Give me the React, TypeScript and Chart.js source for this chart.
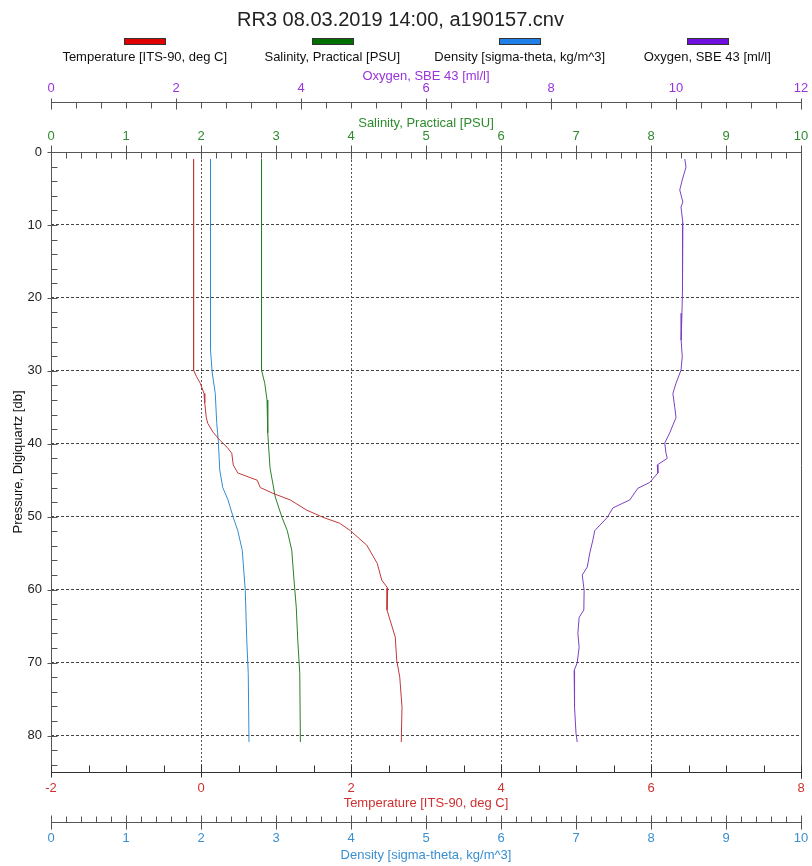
import React, { useEffect, useRef } from 'react';
import { Chart, registerables } from 'chart.js';

Chart.register(...registerables);

const FONT = "'Liberation Sans', Arial, sans-serif";

const titleText = 'RR3 08.03.2019 14:00, a190157.cnv';
const seriesLabels = [
  'Temperature [ITS-90, deg C]',
  'Salinity, Practical [PSU]',
  'Density [sigma-theta, kg/m^3]',
  'Oxygen, SBE 43 [ml/l]',
];
const lineColors = ['rgb(192,56,56)', 'rgb(40,128,40)', 'rgb(52,140,205)', 'rgb(124,64,196)'];
const legendColors = ['#e00000', '#007000', '#1e80e8', '#7010e0'];
const axisColors = ['#d03030', '#2e8b2e', '#3a8fd0', '#9933dd'];

// Temperature profile
const tempPressure = [1.0, 10, 20, 27.2, 29.9, 30.8, 31.7, 33.1, 34.4, 36.4, 37.2, 38.4, 39.5, 40.5, 41.3, 42.9, 44.0, 45.0, 46.0, 46.8, 47.7, 49.1, 50.1, 50.9, 51.9, 53.9, 56.4, 58.7, 59.8, 62.8, 66.5, 69.7, 72.0, 76.1, 80.9];
const tempValues = [-0.1, -0.1, -0.1, -0.1, -0.095, -0.06, -0.01, 0.04, 0.05, 0.07, 0.09, 0.16, 0.25, 0.35, 0.41, 0.43, 0.49, 0.75, 0.79, 0.96, 1.19, 1.41, 1.63, 1.85, 1.99, 2.21, 2.35, 2.41, 2.49, 2.48, 2.59, 2.61, 2.65, 2.68, 2.67];

// Salinity profile
const salPressure = [1.0, 16.6, 29.9, 31.7, 34.0, 38.5, 43.3, 47.3, 50.1, 51.9, 54.6, 58.7, 62.4, 66.9, 71.5, 80.9];
const salValues = [2.807, 2.807, 2.807, 2.85, 2.88, 2.89, 2.92, 2.99, 3.08, 3.15, 3.21, 3.24, 3.27, 3.29, 3.317, 3.325];

// Density profile
const densPressure = [1.0, 27.2, 30.3, 33.1, 37.2, 39.5, 43.6, 46.0, 47.7, 50.1, 51.9, 54.6, 60.1, 66.9, 71.5, 80.9];
const densValues = [2.127, 2.127, 2.15, 2.19, 2.21, 2.23, 2.25, 2.29, 2.36, 2.43, 2.49, 2.55, 2.59, 2.61, 2.63, 2.64];

// Oxygen profile
const oxyPressure = [0.96, 2.06, 3.84, 5.21, 6.86, 7.54, 9.74, 12.07, 14.4, 16.5, 18.9, 22.1, 24.0, 25.8, 28.1, 29.9, 31.7, 33.1, 35.0, 36.4, 38.5, 39.9, 41.3, 42.0, 42.9, 44.0, 45.3, 46.1, 47.7, 48.8, 50.1, 51.9, 53.2, 55.0, 56.9, 58.0, 60.1, 62.8, 63.8, 66.0, 67.9, 70.0, 71.1, 72.4, 73.4, 76.1, 79.7, 80.9];
const oxyValues = [10.14, 10.16, 10.10, 10.06, 10.11, 10.08, 10.11, 10.105, 10.10, 10.11, 10.10, 10.095, 10.08, 10.085, 10.10, 10.08, 10.0, 9.95, 9.98, 10.0, 9.90, 9.82, 9.84, 9.86, 9.70, 9.71, 9.58, 9.39, 9.26, 8.99, 8.90, 8.70, 8.67, 8.62, 8.58, 8.50, 8.53, 8.525, 8.45, 8.43, 8.45, 8.42, 8.37, 8.38, 8.37, 8.38, 8.40, 8.42];

const toPoints = (p: number[], v: number[]) => p.map((y, i) => ({ x: v[i], y }));

function hAxis(ctx: CanvasRenderingContext2D, scale: any, yLine: number, min: number, max: number, minor: number, major: number, minorUp: number, minorDown: number, majorUp: number, majorDown: number) {
  const y = Math.round(yLine) + 0.5;
  ctx.beginPath();
  ctx.moveTo(scale.getPixelForValue(min), y);
  ctx.lineTo(scale.getPixelForValue(max) + 1, y);
  const n = Math.round((max - min) / minor);
  for (let i = 0; i <= n; i++) {
    const v = min + i * minor;
    const r = (v - min) / major;
    const isMajor = Math.abs(r - Math.round(r)) < 1e-6;
    const x = Math.round(scale.getPixelForValue(v)) + 0.5;
    const up = isMajor ? majorUp : minorUp;
    const down = isMajor ? majorDown : minorDown;
    ctx.moveTo(x, y - up);
    ctx.lineTo(x, y + down);
  }
  ctx.stroke();
}

const decorPlugin = {
  id: 'decor',
  afterDraw(chart: any) {
    const ctx: CanvasRenderingContext2D = chart.ctx;
    const { left, right, top, bottom } = chart.chartArea;
    const s = chart.scales;
    ctx.save();
    ctx.lineWidth = 1;
    ctx.strokeStyle = '#555';
    const lx = Math.round(left) + 0.5;
    const rx = Math.round(right) + 0.5;
    ctx.beginPath();
    ctx.moveTo(lx, top);
    ctx.lineTo(lx, bottom + 4);
    ctx.moveTo(rx, top);
    ctx.lineTo(rx, bottom + 7);
    ctx.stroke();
    const y = s.y;
    ctx.beginPath();
    for (let v = 0; v <= 84; v += 2) {
      const py = Math.round(y.getPixelForValue(v)) + 0.5;
      if (v % 10 === 0) {
        ctx.moveTo(lx - 4, py);
        ctx.lineTo(lx + 6, py);
      } else {
        ctx.moveTo(lx, py);
        ctx.lineTo(lx + 6, py);
      }
    }
    ctx.stroke();
    hAxis(ctx, s.oxy, s.oxy.bottom, 0, 12, 0.4, 2, 0, 6, 4, 7);
    hAxis(ctx, s.sal, top, 0, 10, 0.2, 1, 0, 6, 7, 7);
    ctx.strokeStyle = '#333';
    hAxis(ctx, s.temp, bottom, -2, 8, 0.5, 2, 7, 0, 7, 5);
    ctx.strokeStyle = '#555';
    hAxis(ctx, s.dens, s.dens.top + 10, 0, 10, 0.2, 1, 6, 0, 7, 7);

    const w = (right - left) / 4;
    ctx.font = `13px ${FONT}`;
    ctx.textAlign = 'center';
    ctx.textBaseline = 'middle';
    for (let i = 0; i < 4; i++) {
      const cx = left + (i + 0.5) * w;
      ctx.fillStyle = legendColors[i];
      ctx.fillRect(Math.round(cx - 20.5), 38, 41, 6);
      ctx.strokeStyle = '#333';
      ctx.strokeRect(Math.round(cx - 20.5) + 0.5, 38.5, 41, 6);
      ctx.fillStyle = '#111';
      ctx.fillText(seriesLabels[i], cx, 57);
    }
    ctx.restore();
  },
};

const fitter = (h: number) => (sc: any) => {
  sc.height = h;
  sc.paddingLeft = 0;
  sc.paddingRight = 0;
  sc.paddingTop = 0;
  sc.paddingBottom = 0;
};

export default function App() {
  const ref = useRef<HTMLCanvasElement>(null);
  useEffect(() => {
    document.body.style.margin = '0';
    if (!ref.current) return;
    Chart.defaults.font.family = FONT;
    const ds = (i: number, data: any[], xAxisID: string) => ({
      label: seriesLabels[i],
      data,
      xAxisID,
      yAxisID: 'y',
      showLine: true,
      borderColor: lineColors[i],
      backgroundColor: lineColors[i],
      borderWidth: 1,
      pointRadius: 0,
      tension: 0,
      fill: false,
    });
    const tickFont = { size: 13, lineHeight: 1 };
    const chart = new Chart(ref.current, {
      type: 'scatter',
      data: {
        datasets: [
          ds(0, toPoints(tempPressure, tempValues), 'temp'),
          ds(1, toPoints(salPressure, salValues), 'sal'),
          ds(2, toPoints(densPressure, densValues), 'dens'),
          ds(3, toPoints(oxyPressure, oxyValues), 'oxy'),
        ],
      },
      options: {
        animation: false,
        responsive: false,
        layout: { padding: { left: 0, right: 11, top: 0, bottom: 0 } },
        plugins: {
          legend: { display: false },
          tooltip: { enabled: false },
          title: {
            display: true,
            text: titleText,
            color: '#222',
            font: { size: 20, weight: 'normal', lineHeight: 1.2 },
            padding: { top: 8, bottom: 32 },
          },
        },
        scales: {
          y: {
            type: 'linear',
            position: 'left',
            reverse: true,
            min: 0,
            max: 85,
            ticks: { stepSize: 10, includeBounds: false, padding: 9, color: '#222', font: tickFont },
            grid: {
              drawTicks: false,
              lineWidth: 1,
              color: (c: any) => (c.tick && c.tick.value === 0 ? 'rgba(0,0,0,0)' : '#444'),
            },
            border: { display: false, dash: [3, 2] },
            title: { display: true, text: 'Pressure, Digiquartz [db]', color: '#111', font: tickFont, padding: { top: 11.5, bottom: 0 } },
            afterFit: (sc: any) => {
              sc.width = 51;
              sc.paddingTop = 0;
              sc.paddingBottom = 0;
            },
          },
          oxy: {
            type: 'linear',
            position: 'top',
            weight: 1,
            min: 0,
            max: 12,
            ticks: { stepSize: 2, includeBounds: false, padding: 7.5, color: axisColors[3], font: tickFont, maxRotation: 0, autoSkip: false },
            grid: { display: false, drawTicks: false },
            border: { display: false },
            title: { display: true, text: seriesLabels[3], color: axisColors[3], font: tickFont, padding: { top: 5.5, bottom: 0 } },
            afterFit: fitter(38),
          },
          sal: {
            type: 'linear',
            position: 'top',
            weight: 0,
            min: 0,
            max: 10,
            ticks: { stepSize: 1, includeBounds: false, padding: 9.5, color: axisColors[1], font: tickFont, maxRotation: 0, autoSkip: false },
            grid: { display: false, drawTicks: false },
            border: { display: false },
            title: { display: true, text: seriesLabels[1], color: axisColors[1], font: tickFont, padding: { top: 14.5, bottom: 0 } },
            afterFit: fitter(50),
          },
          temp: {
            type: 'linear',
            position: 'bottom',
            weight: 0,
            min: -2,
            max: 8,
            ticks: { stepSize: 2, includeBounds: false, padding: 10, color: axisColors[0], font: tickFont, maxRotation: 0, autoSkip: false },
            grid: {
              drawTicks: false,
              lineWidth: 1,
              color: (c: any) => (c.tick && (c.tick.value === -2 || c.tick.value === 8) ? 'rgba(0,0,0,0)' : '#555'),
            },
            border: { display: false, dash: [2, 2] },
            title: { display: true, text: seriesLabels[0], color: axisColors[0], font: tickFont, padding: { top: 0, bottom: 2.5 } },
            afterFit: fitter(40),
          },
          dens: {
            type: 'linear',
            position: 'bottom',
            weight: 1,
            min: 0,
            max: 10,
            ticks: { stepSize: 1, includeBounds: false, padding: 19.5, color: axisColors[2], font: tickFont, maxRotation: 0, autoSkip: false },
            grid: { display: false, drawTicks: false },
            border: { display: false },
            title: { display: true, text: seriesLabels[2], color: axisColors[2], font: tickFont, padding: { top: 0, bottom: 4.5 } },
            afterFit: fitter(54),
          },
        },
      } as any,
      plugins: [decorPlugin],
    });
    return () => chart.destroy();
  }, []);
  return <canvas ref={ref} width={812} height={866} style={{ display: 'block' }} />;
}
